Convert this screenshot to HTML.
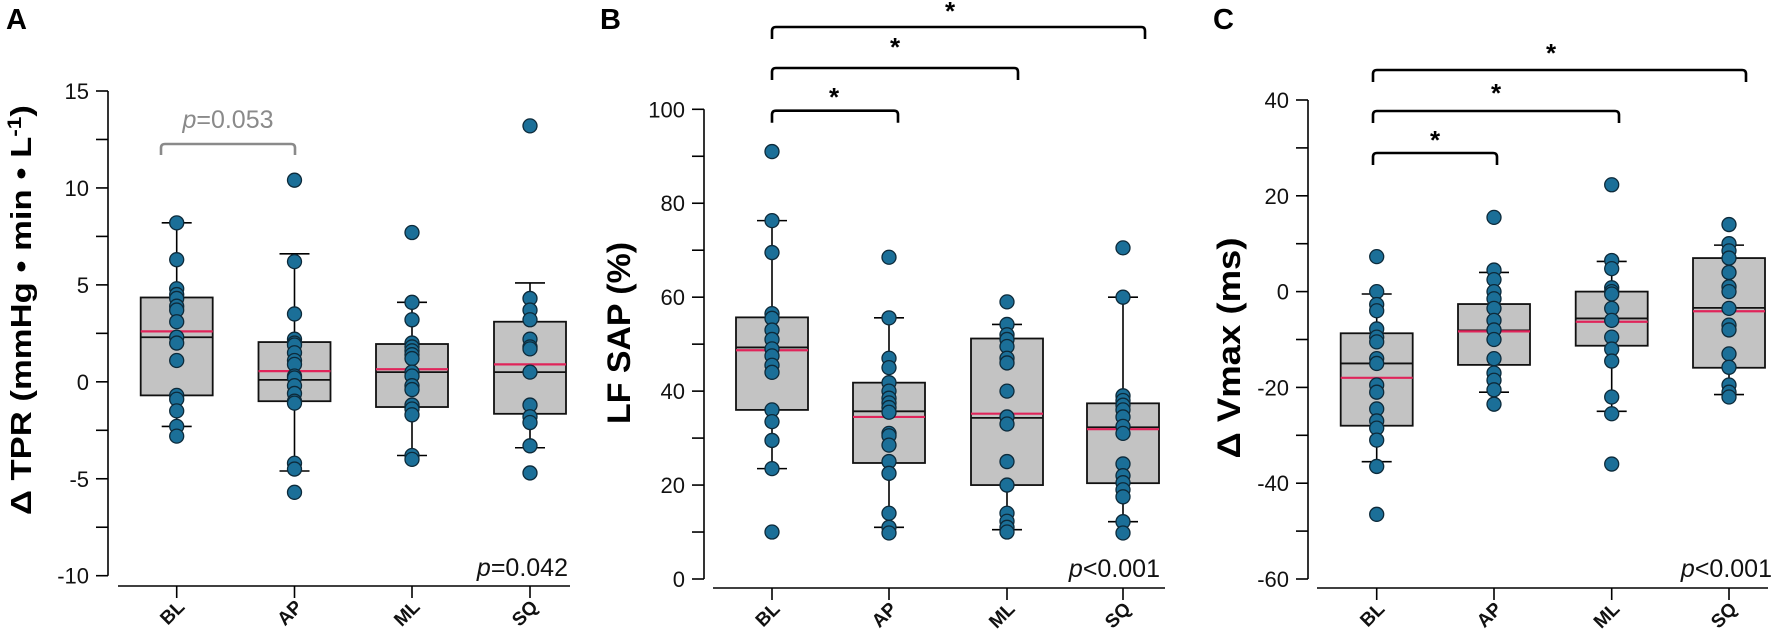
<!DOCTYPE html>
<html><head><meta charset="utf-8"><style>
html,body{margin:0;padding:0;background:#fff;}
svg{display:block;font-family:"Liberation Sans",Arial,sans-serif;}
</style></head><body>
<svg id="s" width="1772" height="643" viewBox="0 0 1772 643" xmlns="http://www.w3.org/2000/svg"></svg>
<script>
const S=document.getElementById('s');const NS='http://www.w3.org/2000/svg';
function el(t,a,txt){const e=document.createElementNS(NS,t);for(const k in a)e.setAttribute(k,a[k]);if(txt!==undefined)e.textContent=txt;S.appendChild(e);return e;}
function line(x1,y1,x2,y2,c,w){el('line',{x1,y1,x2,y2,stroke:c||'#000','stroke-width':w||1.6});}
function panel(P){
  const Y=v=>P.y0+(v-P.vmin)*(P.y1-P.y0)/(P.vmax-P.vmin);
  line(P.ax,Y(P.vmax),P.ax,Y(P.vmin));
  for(let v=P.vmin;v<=P.vmax+1e-9;v+=P.minor){line(P.ax-12,Y(v),P.ax,Y(v));}
  for(let v=P.vmin;v<=P.vmax+1e-9;v+=P.major){el('text',{x:P.ax-19,y:Y(v)+8,'text-anchor':'end','font-size':22,fill:'#111'},String(v));}
  line(P.xl,P.xa,P.xr,P.xa);
  const names=['BL','AP','ML','SQ'];
  P.cats.forEach((c,i)=>{line(c,P.xa,c,P.xa+12);
    el('text',{x:c+9,y:P.xa+22,'text-anchor':'end','font-size':19,'font-weight':'bold',transform:`rotate(-45 ${c+9} ${P.xa+22})`,fill:'#111'},names[i]);
    const d=P.data[i];const hw=36;
    line(c,Y(d.wl),c,Y(d.wh));
    line(c-15,Y(d.wl),c+15,Y(d.wl));line(c-15,Y(d.wh),c+15,Y(d.wh));
    el('rect',{x:c-hw,y:Y(d.q3),width:2*hw,height:Y(d.q1)-Y(d.q3),fill:'#c3c3c3',stroke:'#111','stroke-width':1.8});
    line(c-hw,Y(d.med),c+hw,Y(d.med),'#111',1.8);
    line(c-hw,Y(d.mean),c+hw,Y(d.mean),'#e0245a',2.2);
    d.pts.forEach(v=>el('circle',{cx:c,cy:Y(v),r:7,fill:'#1b6f98',stroke:'#0d2a3a','stroke-width':1.3}));
  });
}
function bracket(x1,x2,y,h,c,w){el('path',{d:`M${x1} ${y+h} L${x1} ${y+4} Q${x1} ${y} ${x1+4} ${y} L${x2-4} ${y} Q${x2} ${y} ${x2} ${y+4} L${x2} ${y+h}`,fill:'none',stroke:c,'stroke-width':w||2.6});}
function star(x,y){el('text',{x,y:y+18,'text-anchor':'middle','font-size':26,'font-weight':'bold'},'*');}

panel({ax:108,vmin:-10,vmax:15,y0:575.7,y1:91,minor:2.5,major:5,xl:118,xr:570,xa:586,cats:[176.7,294.5,412,530],
data:[
{q1:-0.7,q3:4.35,med:2.3,mean:2.6,wl:-2.3,wh:8.2,pts:[8.2,6.3,4.8,4.5,4.3,3.9,3.7,3.1,2.3,2.0,1.1,-0.7,-0.9,-1.5,-2.3,-2.8]},
{q1:-1.0,q3:2.05,med:0.1,mean:0.55,wl:-4.6,wh:6.6,pts:[10.4,6.2,3.5,2.2,2.0,1.9,1.5,1.1,0.9,0.3,0.2,-0.2,-0.6,-1.0,-1.1,-4.2,-4.5,-5.7]},
{q1:-1.3,q3:1.95,med:0.5,mean:0.65,wl:-3.8,wh:4.1,pts:[7.7,4.1,3.2,2.0,1.8,1.6,1.4,1.2,0.5,0.3,-0.2,-0.4,-1.2,-1.4,-1.7,-3.8,-4.0]},
{q1:-1.65,q3:3.1,med:0.5,mean:0.9,wl:-3.4,wh:5.1,pts:[13.2,4.3,3.7,3.2,2.2,1.8,1.7,0.5,-1.2,-1.8,-2.1,-3.3,-4.7]}]});
bracket(161,295,144,11,'#8a8a8a',2.6);
el('text',{x:228,y:128,'text-anchor':'middle','font-size':25,fill:'#8a8a8a'}).innerHTML='<tspan font-style="italic">p</tspan>=0.053';
el('text',{x:568,y:576,'text-anchor':'end','font-size':25,fill:'#111'}).innerHTML='<tspan font-style="italic">p</tspan>=0.042';
el('text',{x:0,y:0,'font-size':29,'font-weight':'bold',transform:'translate(31 310) rotate(-90)','text-anchor':'middle',textLength:410,lengthAdjust:'spacingAndGlyphs'}).innerHTML='Δ TPR (mmHg • min • L<tspan dy="-10" font-size="19">-1</tspan><tspan dy="10">)</tspan>';
el('text',{x:6,y:29,'font-size':29,'font-weight':'bold'},'A');

panel({ax:704,vmin:0,vmax:100,y0:579,y1:109.3,minor:10,major:20,xl:713,xr:1165,xa:588,cats:[772,889,1007,1123],
data:[
{q1:36,q3:55.7,med:49.3,mean:48.7,wl:23.5,wh:76.3,pts:[91,76.3,69.5,56.5,55.5,53,51,49,47.5,45.5,44,36,33.5,29.5,23.5,10]},
{q1:24.7,q3:41.8,med:35.7,mean:34.5,wl:11,wh:55.6,pts:[68.5,55.6,47,45,41.8,40,38.5,37.5,36.5,35.5,31,30.5,28.5,25,22.5,14,11,9.8]},
{q1:20,q3:51.2,med:34.3,mean:35.2,wl:10.5,wh:54.2,pts:[59,54.2,52,51,49.5,47,46,40,34.5,33,25,20,14,12.3,11,10]},
{q1:20.4,q3:37.4,med:32.3,mean:31.9,wl:12.2,wh:60,pts:[70.5,60,39,38,37,36,34.5,32.5,31,24.5,22,20.5,19,17.5,12.2,9.8]}]});
bracket(772,898,110.7,12,'#000');star(834,88);
bracket(772,1018,68,12,'#000');star(895,38);
bracket(772,1145,27,12,'#000');star(950,2);
el('text',{x:1160,y:577,'text-anchor':'end','font-size':25,fill:'#111'}).innerHTML='<tspan font-style="italic">p</tspan>&lt;0.001';
el('text',{x:0,y:0,'font-size':32,'font-weight':'bold',transform:'translate(630 333) rotate(-90)','text-anchor':'middle',textLength:182,lengthAdjust:'spacingAndGlyphs'},'LF SAP (%)');
el('text',{x:600,y:29,'font-size':29,'font-weight':'bold'},'B');

panel({ax:1308,vmin:-60,vmax:40,y0:579,y1:100,minor:10,major:20,xl:1317,xr:1768,xa:588,cats:[1376.7,1494,1611.7,1729],
data:[
{q1:-28,q3:-8.7,med:-15,mean:-18,wl:-35.5,wh:-0.5,pts:[7.3,0,-2.7,-4,-7.8,-9.5,-10.5,-14,-15,-19.5,-21,-24.5,-27,-28.5,-31,-36.5,-46.5]},
{q1:-15.3,q3:-2.6,med:-8.1,mean:-8.3,wl:-21,wh:4,pts:[15.5,4.5,2.5,0,-1.5,-3.5,-6,-8,-10,-14,-17,-18.5,-20.5,-23.5]},
{q1:-11.3,q3:0,med:-5.6,mean:-6.3,wl:-25,wh:6.3,pts:[22.3,6.5,4.8,0.8,0,-0.5,-3.5,-6,-9.5,-12,-14.5,-22,-25.5,-36]},
{q1:-15.9,q3:7,med:-3.4,mean:-4.1,wl:-21.5,wh:9.7,pts:[14,10,8.5,7,4,1,0,-3.5,-7,-8,-13,-15.8,-19.5,-21,-22]}]});
bracket(1373,1497,153,12,'#000');star(1435,131);
bracket(1373,1619,111,12,'#000');star(1496,84);
bracket(1373,1746,70,12,'#000');star(1551,44);
el('text',{x:1772,y:577,'text-anchor':'end','font-size':25,fill:'#111'}).innerHTML='<tspan font-style="italic">p</tspan>&lt;0.001';
el('text',{x:0,y:0,'font-size':32,'font-weight':'bold',transform:'translate(1240 348) rotate(-90)','text-anchor':'middle',textLength:221,lengthAdjust:'spacingAndGlyphs'},'Δ Vmax (ms)');
el('text',{x:1213,y:29,'font-size':29,'font-weight':'bold'},'C');
</script>
</body></html>
